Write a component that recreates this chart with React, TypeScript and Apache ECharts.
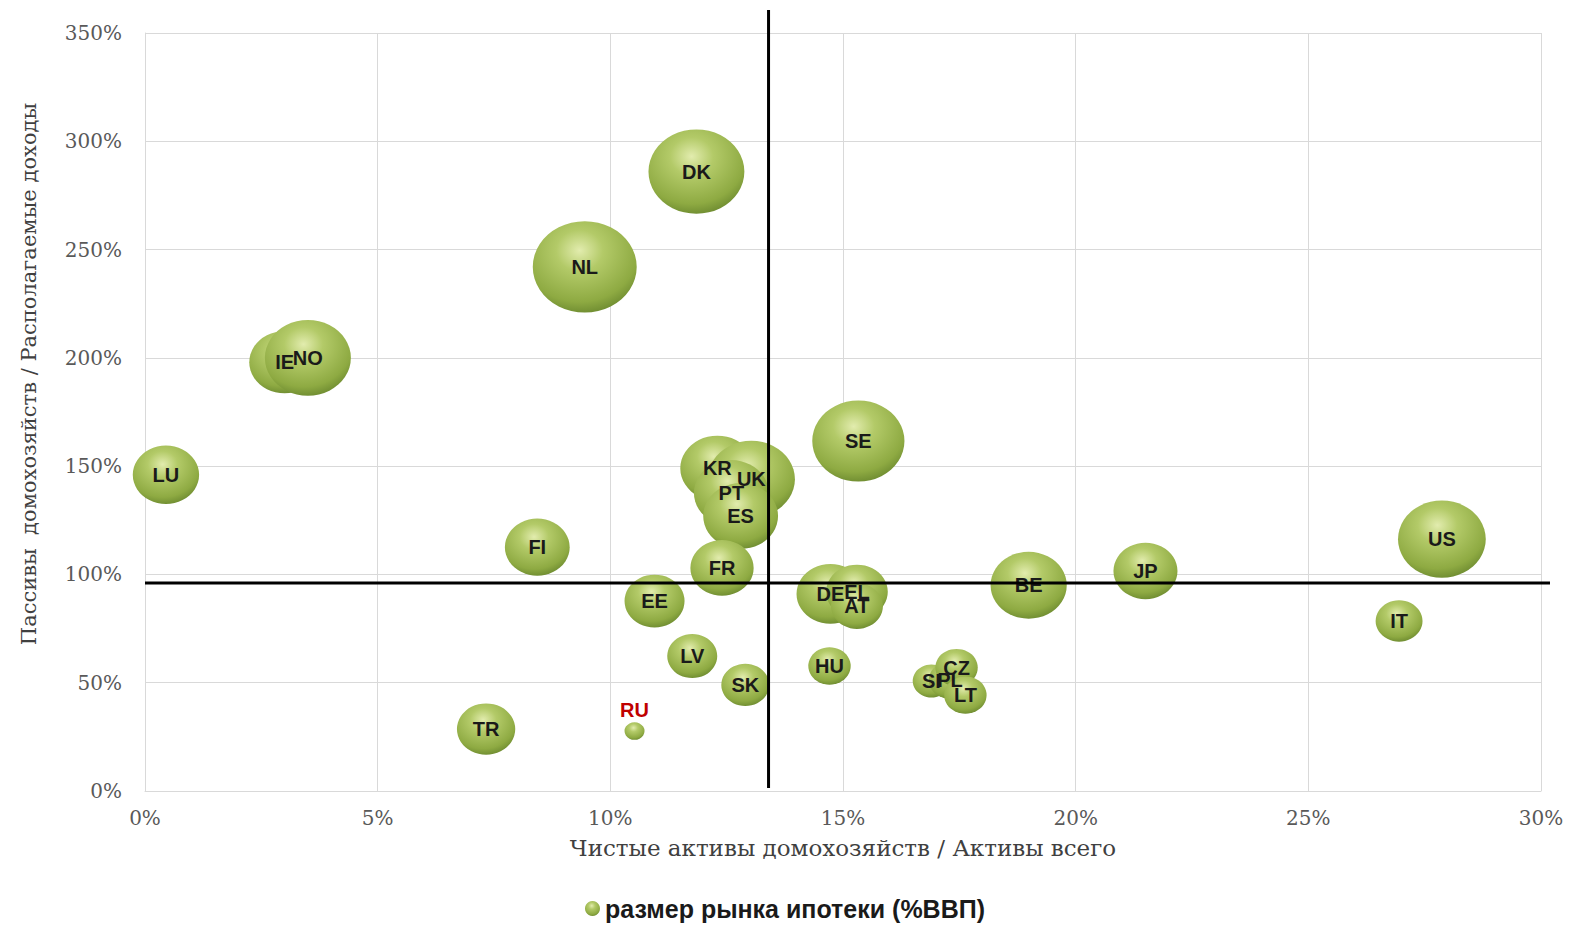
import React, { useEffect, useRef } from "react";
import * as echarts from "echarts";

const countries = ["LU","IE","NO","NL","DK","SE","KR","UK","PT","ES","FI","FR","EE","DE","EL","AT","LV","SK","HU","RU","TR","SI","PL","CZ","LT","BE","JP","US","IT"];
const netAssetsShare = [0.45, 3.0, 3.5, 9.45, 11.85, 15.33, 12.3, 13.03, 12.6, 12.8, 8.43, 12.4, 10.95, 14.73, 15.3, 15.3, 11.76, 12.9, 14.71, 10.52, 7.33, 16.9, 17.3, 17.44, 17.63, 18.99, 21.5, 27.87, 26.95];
const debtToIncome = [146, 198, 200, 242, 286, 161.6, 149, 144, 137.6, 127, 112.6, 103, 87.7, 91, 92, 85.4, 62.3, 49, 57.7, 27.7, 28.6, 50.8, 51.2, 57, 44.3, 95, 101.6, 116.3, 78.5];
const mortgageMarket = [44, 50, 74, 108, 92, 85, 55, 76, 56, 56, 42, 40, 36, 46, 38, 27, 25, 23, 18, 4, 34, 14, 18, 18, 18, 58, 41, 77, 22];
const xTicks = { min: 0, max: 30, interval: 5 };
const yTicks = { min: 0, max: 350, interval: 50 };
const refX = 13.4;
const refY = 96;
const seriesName = "размер рынка ипотеки (%ВВП)";

export default function App() {
  const ref = useRef<HTMLDivElement>(null);
  useEffect(() => {
    document.body.style.margin = "0";
    const chart = echarts.init(ref.current!, null, { renderer: "svg" });
    const ball = new echarts.graphic.RadialGradient(0.45, 0.32, 0.75, [
      { offset: 0, color: "#e2ecae" },
      { offset: 0.3, color: "#b3ca68" },
      { offset: 0.75, color: "#8eaa42" },
      { offset: 1, color: "#62802a" },
    ]);
    const data = countries.map((c, i) => ({
      name: c,
      value: [netAssetsShare[i], debtToIncome[i], mortgageMarket[i]],
      label: c === "RU"
        ? { position: "top", color: "#c00000", distance: 2 }
        : undefined,
    }));
    chart.setOption({
      animation: false,
      grid: { left: 145, right: 29, top: 33, bottom: 136 },
      legend: {
        bottom: 1,
        left: "center",
        icon: "circle",
        itemWidth: 15,
        itemHeight: 15,
        itemGap: 6,
        textStyle: { fontFamily: "Liberation Sans", fontWeight: "bold", fontSize: 25, color: "#1a1a1a" },
        data: [seriesName],
      },
      xAxis: {
        type: "value",
        min: xTicks.min, max: xTicks.max, interval: xTicks.interval,
        name: "Чистые активы домохозяйств / Активы всего",
        nameLocation: "middle",
        nameGap: 45,
        nameTextStyle: { fontFamily: "DejaVu Serif", fontSize: 23, color: "#404040" },
        axisLine: { show: true, lineStyle: { color: "#d9d9d9" } },
        axisTick: { show: false },
        splitLine: { show: true, lineStyle: { color: "#d9d9d9" } },
        axisLabel: { formatter: "{value}%", margin: 17, fontFamily: "DejaVu Serif", fontSize: 20, color: "#595959" },
      },
      yAxis: {
        type: "value",
        min: yTicks.min, max: yTicks.max, interval: yTicks.interval,
        name: "Пассивы  домохозяйств / Располагаемые доходы",
        nameLocation: "middle",
        nameGap: 106,
        nameTextStyle: { fontFamily: "DejaVu Serif", fontSize: 21, color: "#404040", padding: [0, 0, 0, 76] },
        axisLine: { show: true, lineStyle: { color: "#d9d9d9" } },
        axisTick: { show: false },
        splitLine: { show: true, lineStyle: { color: "#d9d9d9" } },
        axisLabel: { formatter: "{value}%", margin: 23, fontFamily: "DejaVu Serif", fontSize: 20, color: "#595959" },
      },
      series: [
        {
          name: seriesName,
          type: "scatter",
          symbol: "circle",
          symbolSize: (v: number[]) => {
            const d = 10 * Math.sqrt(v[2]);
            return [d, d * 0.88];
          },
          itemStyle: { color: ball, opacity: 1 },
          label: {
            show: true,
            position: "inside",
            formatter: "{b}",
            fontFamily: "Liberation Sans",
            fontWeight: "bold",
            fontSize: 20,
            color: "#1a1a1a",
          },
          data,
        },
      ],
    });
    const p = chart.convertToPixel({ gridIndex: 0 }, [refX, refY]) as number[];
    const b = chart.convertToPixel({ gridIndex: 0 }, [xTicks.min, yTicks.min]) as number[];
    const t = chart.convertToPixel({ gridIndex: 0 }, [xTicks.max, yTicks.max]) as number[];
    chart.setOption({
      graphic: [
        { type: "line", z: 100, shape: { x1: p[0], y1: t[1] - 23, x2: p[0], y2: b[1] - 3 }, style: { stroke: "#000", lineWidth: 3 } },
        { type: "line", z: 100, shape: { x1: b[0], y1: p[1], x2: t[0] + 9, y2: p[1] }, style: { stroke: "#000", lineWidth: 3 } },
      ],
    });
    return () => chart.dispose();
  }, []);
  return <div ref={ref} style={{ width: 1570, height: 927 }} />;
}
